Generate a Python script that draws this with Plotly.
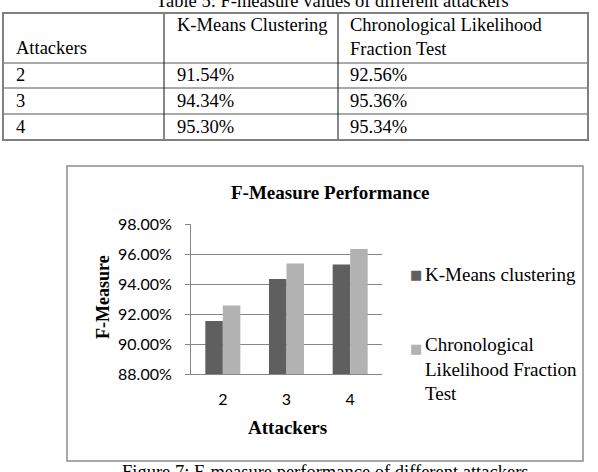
import plotly.graph_objects as go

# ---------------- data ----------------
attackers = ["2", "3", "4"]
table_kmeans = [91.54, 94.34, 95.30]
table_clft = [92.56, 95.36, 95.34]
chart_kmeans = [91.54, 94.34, 95.30]
chart_clft = [92.56, 95.36, 96.34]
series_names = ["K-Means clustering", "Chronological Likelihood Fraction Test"]
legend_labels = ["K-Means clustering", "Chronological<br>Likelihood Fraction<br>Test"]
table_headers = ["Attackers", "K-Means Clustering", "Chronological Likelihood<br>Fraction Test"]
y_ticks = [0.88, 0.90, 0.92, 0.94, 0.96, 0.98]
table_caption = "Table 5: F-measure values of different attackers"
figure_caption = "Figure 7: F-measure performance of different attackers"
chart_title = "F-Measure Performance"
x_title = "Attackers"
y_title = "F-Measure"

# ---------------- styles / layout helpers ----------------
W, H = 598, 472
def px(x):
    return x / W
def py(y):
    return 1 - y / H

DARK = "#5f5f5f"
LIGHT = "#b2b2b2"
GRID = "#868686"
SERIF = "Liberation Serif"
SANS = "Lato"

fig = go.Figure()
fig.add_trace(go.Bar(x=attackers, y=[v / 100 for v in chart_kmeans], name=series_names[0],
                     marker=dict(color=DARK, line=dict(width=0))))
fig.add_trace(go.Bar(x=attackers, y=[v / 100 for v in chart_clft], name=series_names[1],
                     marker=dict(color=LIGHT, line=dict(width=0))))

shapes = []
# chart frame
shapes.append(dict(type="rect", xref="paper", yref="paper", x0=px(67), x1=px(583), y0=py(461), y1=py(166),
                   line=dict(color="#8c8c8c", width=1.5), layer="below"))
# table lines
tx = [3, 164, 338, 588]
ty = [13, 63, 88, 114, 140]
for yy in ty[1:-1]:
    shapes.append(dict(type="line", xref="paper", yref="paper", x0=px(tx[0]), x1=px(tx[-1]), y0=py(yy), y1=py(yy),
                       line=dict(color="#555555", width=1)))
for xx in tx[1:-1]:
    shapes.append(dict(type="line", xref="paper", yref="paper", x0=px(xx), x1=px(xx), y0=py(ty[0]), y1=py(ty[-1]),
                       line=dict(color="#111111", width=1)))
shapes.append(dict(type="rect", xref="paper", yref="paper", x0=px(tx[0]), x1=px(tx[-1]), y0=py(ty[-1]), y1=py(ty[0]),
                   line=dict(color="#808080", width=2)))

ann = []
def text(x, y, s, size=18.5, family=SERIF, xanchor="left", yanchor="middle", color="#000", align="left", angle=0):
    ann.append(dict(x=px(x), y=py(y), xref="paper", yref="paper", text=s, showarrow=False,
                    xanchor=xanchor, yanchor=yanchor, align=align, textangle=angle,
                    font=dict(family=family, size=size, color=color)))

# captions (partly cropped by the page edges, as in the reference)
text(332, 1, table_caption, xanchor="center")
text(120, 472, figure_caption)
# table header
col_x = [14, 175, 348]
text(col_x[0], 48, table_headers[0])
text(col_x[1], 25, table_headers[1])
text(col_x[2], 37, table_headers[2])
row_y = [75.5, 101, 127]
for i in range(3):
    text(col_x[0], row_y[i], attackers[i])
    text(col_x[1], row_y[i], f"{table_kmeans[i]:.2f}%")
    text(col_x[2], row_y[i], f"{table_clft[i]:.2f}%")

# chart texts
text(330, 192, f"<b>{chart_title}</b>", size=19, xanchor="center")
text(287, 427, f"<b>{x_title}</b>", size=19, xanchor="center")
text(103, 297, f"<b>{y_title}</b>", size=18, xanchor="center", angle=-90)
# legend
text(416, 274, "■", size=13, family="DejaVu Sans", xanchor="center", color=DARK)
text(423, 274, legend_labels[0], size=19)
text(416, 348, "■", size=13, family="DejaVu Sans", xanchor="center", color=LIGHT)
text(423, 369, legend_labels[1], size=19)

fig.update_layout(
    width=W, height=H, autosize=False,
    margin=dict(l=0, r=0, t=0, b=0, pad=0, autoexpand=False),
    paper_bgcolor="white", plot_bgcolor="white",
    showlegend=False,
    barmode="group", bargap=0.45, bargroupgap=0,
    font=dict(family=SERIF, color="#000"),
    shapes=shapes, annotations=ann,
    xaxis=dict(domain=[px(191), px(382)], type="category", showline=True, linecolor=GRID, linewidth=1,
               ticks="", showgrid=False, tickfont=dict(family=SANS, size=16, color="#000"),
               ticklabelstandoff=11, automargin=False, fixedrange=True),
    yaxis=dict(domain=[py(374), py(224)], range=[0.88, 0.98], tickvals=y_ticks, tickformat=".2%",
               showgrid=True, gridcolor=GRID, gridwidth=1, showline=True, linecolor=GRID, linewidth=1,
               ticks="outside", ticklen=5, tickcolor=GRID, zeroline=False, automargin=False,
               tickfont=dict(family=SANS, size=16, color="#000"), ticklabelstandoff=10, fixedrange=True),
)

fig.write_html("out.html")
